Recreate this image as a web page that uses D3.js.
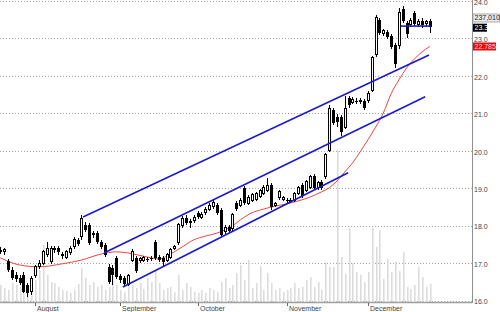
<!DOCTYPE html>
<html><head><meta charset="utf-8">
<script src="https://cdn.jsdelivr.net/npm/d3@7"></script>
<style>html,body{margin:0;padding:0;background:#fff;overflow:hidden}</style>
</head><body><svg id="c" width="500" height="312"></svg>
<script>
// ---- data (prices in $, volume in thousands of shares) ----
const openP = [17.35,17.30,17.06,16.82,16.68,16.60,16.68,16.42,16.23,16.68,16.90,17.00,17.22,17.03,17.35,17.40,17.24,17.16,17.27,17.43,17.62,17.70,18.02,18.02,17.80,17.80,17.56,17.48,16.90,16.87,17.14,16.65,16.60,16.44,17.08,17.14,17.06,17.08,17.11,17.14,17.56,17.16,17.14,17.08,17.16,17.38,17.56,17.99,18.20,18.10,18.13,18.34,18.23,18.34,18.44,18.50,18.55,18.42,17.83,17.96,17.91,18.60,18.55,19.01,18.60,18.68,18.71,18.79,18.87,18.95,19.09,18.55,18.74,18.71,18.68,18.66,18.68,18.87,19.09,18.95,19.03,19.32,19.01,19.17,19.30,20.02,21.09,20.90,20.90,20.63,21.41,21.30,21.33,21.33,21.33,21.33,21.62,22.56,23.49,23.12,23.17,23.07,22.82,22.80,23.79,23.41,23.36,23.68,23.36,23.47,23.39,23.47];
const highP = [17.43,17.40,17.11,16.90,16.76,16.68,16.76,16.47,16.65,16.95,17.08,17.35,17.56,17.45,17.45,17.45,17.30,17.35,17.45,17.70,17.68,18.28,18.10,18.07,17.86,17.86,17.62,17.54,16.98,16.95,17.19,16.70,16.65,16.72,17.38,17.19,17.16,17.19,17.16,17.19,17.62,17.22,17.19,17.27,17.40,17.48,18.07,18.26,18.28,18.18,18.28,18.39,18.36,18.50,18.60,18.71,18.60,18.47,18.02,18.02,18.34,18.66,18.74,19.06,18.82,18.87,18.90,18.98,19.09,19.27,19.14,18.63,18.95,18.79,18.74,18.74,18.90,19.06,19.14,19.22,19.35,19.38,19.20,19.22,19.94,21.22,21.14,20.98,20.95,21.46,21.46,21.43,21.41,21.41,21.38,21.59,22.53,23.63,23.55,23.25,23.23,23.12,22.88,23.81,23.87,23.47,23.55,23.73,23.52,23.55,23.49,23.52];
const lowP = [17.24,17.22,16.76,16.55,16.50,16.42,16.20,16.09,16.15,16.60,16.85,16.95,17.16,16.98,17.27,17.22,17.11,17.11,17.22,17.38,17.45,17.62,17.83,17.48,17.68,17.51,17.38,17.16,16.44,16.42,16.58,16.47,16.36,16.40,17.03,16.74,17.00,17.03,17.03,17.06,17.08,17.03,16.90,17.03,17.11,17.35,17.48,17.94,18.02,17.94,18.07,18.18,18.18,18.28,18.39,18.44,18.28,17.70,17.78,17.80,17.86,18.39,18.50,18.55,18.55,18.63,18.66,18.74,18.82,18.90,18.42,18.50,18.68,18.66,18.60,18.60,18.63,18.82,18.74,18.90,18.98,18.95,18.95,18.95,19.25,19.97,20.68,20.63,20.39,20.58,21.14,21.25,21.25,21.25,21.09,21.28,21.57,22.50,23.09,23.07,22.99,22.72,22.21,22.72,23.41,23.01,23.31,23.33,23.31,23.28,23.33,23.15];
const closeP = [17.30,17.35,16.82,16.60,16.58,16.47,16.23,16.20,16.60,16.90,17.00,17.30,17.38,17.40,17.38,17.30,17.19,17.30,17.40,17.62,17.51,18.20,17.88,17.54,17.75,17.56,17.43,17.22,16.50,16.68,16.63,16.55,16.44,16.68,17.30,16.79,17.11,17.14,17.08,17.11,17.14,17.08,17.03,17.22,17.35,17.43,18.02,18.18,18.07,18.10,18.23,18.23,18.31,18.44,18.55,18.63,18.34,17.75,17.96,17.86,18.31,18.44,18.68,18.60,18.76,18.82,18.85,18.93,19.03,19.06,18.50,18.58,18.90,18.74,18.66,18.68,18.85,19.01,18.79,19.17,19.30,19.01,19.14,19.01,19.89,21.14,20.74,20.77,20.50,21.14,21.22,21.38,21.30,21.33,21.14,21.54,22.48,23.55,23.15,23.20,23.04,22.77,22.32,23.68,23.47,23.12,23.47,23.39,23.44,23.36,23.44,23.30];
const volumeK = [224,184,158,250,224,198,250,224,198,290,421,751,356,263,250,198,158,145,119,158,237,448,316,224,263,198,224,158,198,356,224,158,132,316,224,184,250,171,316,263,421,250,158,184,198,132,356,158,250,198,132,119,158,119,184,158,132,263,316,184,224,382,487,290,553,184,250,474,158,382,250,158,184,132,158,184,250,184,198,290,329,198,263,158,527,461,461,2002,593,369,975,514,395,356,263,395,975,724,948,303,566,395,527,408,659,198,171,224,461,329,198,237];
const maIndex = [0,5,10,16,21,26,30,33,38,41,44,47,50,53,56,58,60,62,65,68,71,74,77,80,83,85,87,89,91,93,95,97,99,101,103,105,107,109,111];
const maValue = [17.14,16.95,16.90,16.98,17.08,17.24,17.30,17.27,17.16,17.11,17.24,17.43,17.62,17.72,17.80,17.88,17.99,18.15,18.34,18.44,18.52,18.58,18.66,18.76,18.90,19.01,19.19,19.43,19.67,19.97,20.29,20.63,21.01,21.52,21.89,22.21,22.45,22.64,22.785];
const trendStartIdx = [21.4,26.8,31.7,103.5];
const trendStartPrice = [18.23,17.27,16.36,23.33];
const trendEndIdx = [110.8,109.8,89.9,111.3];
const trendEndPrice = [22.56,21.44,19.41,23.33];
const monthStartIdx = [9,31,51,74,95];
const monthLabels = ["August","September","October","November","December"];
const priceTicks = [16,17,18,19,20,21,22,23,24];
const lastVolumeLabel = "237,010";
const lastCloseLabel = "23.3";
const lastMaLabel = "22.785";

// ---- drawing ----
const svg = d3.select("#c");
const FONT = "Liberation Sans, Arial, sans-serif";
const axisX = 472, baseY = 302;
const n = closeP.length;
const x = d3.scaleLinear().domain([0, 111]).range([0.2, 429.8]);
const y = d3.scaleLinear().domain([16, 24]).range([300.5, 1]);
const yv = d3.scaleLinear().domain([0, 4000]).range([baseY, -2]);

// grid
svg.append("g").selectAll("line").data(priceTicks).join("line")
  .attr("x1", 0).attr("x2", axisX)
  .attr("y1", d => Math.round(y(d)) + 0.5).attr("y2", d => Math.round(y(d)) + 0.5)
  .attr("stroke", "#a8a8a8").attr("stroke-dasharray", "1,2");

// volume
svg.append("g").selectAll("rect").data(volumeK).join("rect")
  .attr("x", (d, i) => Math.round(x(i)))
  .attr("width", 1.6)
  .attr("y", d => yv(d))
  .attr("height", d => baseY - yv(d))
  .attr("fill", "#dcdcdc");

// axes lines
svg.append("line").attr("x1", 0).attr("x2", axisX).attr("y1", baseY + 0.5).attr("y2", baseY + 0.5)
  .attr("stroke", "#a0a0a0").attr("stroke-width", 1.5);
svg.append("line").attr("x1", axisX + 0.5).attr("x2", axisX + 0.5).attr("y1", 0).attr("y2", baseY + 1)
  .attr("stroke", "#909090");

// right axis labels via d3 axis
const ax = d3.axisRight(y).tickValues(priceTicks).tickFormat(d3.format(".1f")).tickSize(0).tickPadding(2);
const axg = svg.append("g").attr("transform", `translate(${axisX},1)`).call(ax);
axg.select(".domain").remove();
axg.selectAll("text").attr("font-family", FONT).attr("font-size", 7).attr("fill", "#444");

// month labels
const mg = svg.append("g");
monthStartIdx.forEach((mi, k) => {
  const mx = Math.round(x(mi));
  mg.append("line").attr("x1", mx + 0.5).attr("x2", mx + 0.5).attr("y1", 303).attr("y2", 306).attr("stroke", "#666");
  mg.append("text").attr("x", mx + 2).attr("y", 310.5).text(monthLabels[k])
    .attr("font-family", FONT).attr("font-size", 7).attr("fill", "#444");
});

// moving average
const maPts = maIndex.map((d, i) => [d, maValue[i]]);
svg.append("path").datum(maPts)
  .attr("d", d3.line().x(d => x(d[0])).y(d => y(d[1])).curve(d3.curveMonotoneX))
  .attr("fill", "none").attr("stroke", "#e8473f").attr("stroke-width", 1);

// candles
const cg = svg.append("g").attr("shape-rendering", "crispEdges");
d3.range(n).forEach(i => {
  const cx = Math.round(x(i));
  const o = openP[i], c = closeP[i];
  cg.append("line").attr("x1", cx + 0.5).attr("x2", cx + 0.5)
    .attr("y1", y(highP[i])).attr("y2", y(lowP[i])).attr("stroke", "#000");
  const top = y(Math.max(o, c)), bot = y(Math.min(o, c));
  const h = Math.max(1, bot - top);
  if (c >= o) {
    cg.append("rect").attr("x", cx - 0.5).attr("y", top).attr("width", 2).attr("height", h)
      .attr("fill", "#fff").attr("stroke", "#000");
  } else {
    cg.append("rect").attr("x", cx - 1).attr("y", top).attr("width", 3).attr("height", h)
      .attr("fill", "#000");
  }
});

// trend lines
svg.append("g").selectAll("line").data(trendStartIdx).join("line")
  .attr("x1", (d) => x(d)).attr("y1", (d, i) => y(trendStartPrice[i]))
  .attr("x2", (d, i) => x(trendEndIdx[i])).attr("y2", (d, i) => y(trendEndPrice[i]))
  .attr("stroke", "#1a1acc").attr("stroke-width", 1.6);

// value boxes on the axis
function box(yc, w, fill, stroke, txt, color) {
  svg.append("rect").attr("x", axisX + 1).attr("y", yc - 4).attr("width", w).attr("height", 8)
    .attr("fill", fill).attr("stroke", stroke).attr("stroke-width", stroke === "none" ? 0 : 0.8);
  svg.append("text").attr("x", axisX + 2.5).attr("y", yc).attr("dy", "0.35em").text(txt)
    .attr("font-family", FONT).attr("font-size", 7).attr("fill", color);
}
box(18, 26.5, "#ebebeb", "#9a9a9a", lastVolumeLabel, "#222");
box(y(closeP[n - 1]) + 0.5, 14, "#000", "none", lastCloseLabel, "#fff");
box(y(maValue[maValue.length - 1]), 23, "#e01010", "none", lastMaLabel, "#ffd0d0");
</script></body></html>
